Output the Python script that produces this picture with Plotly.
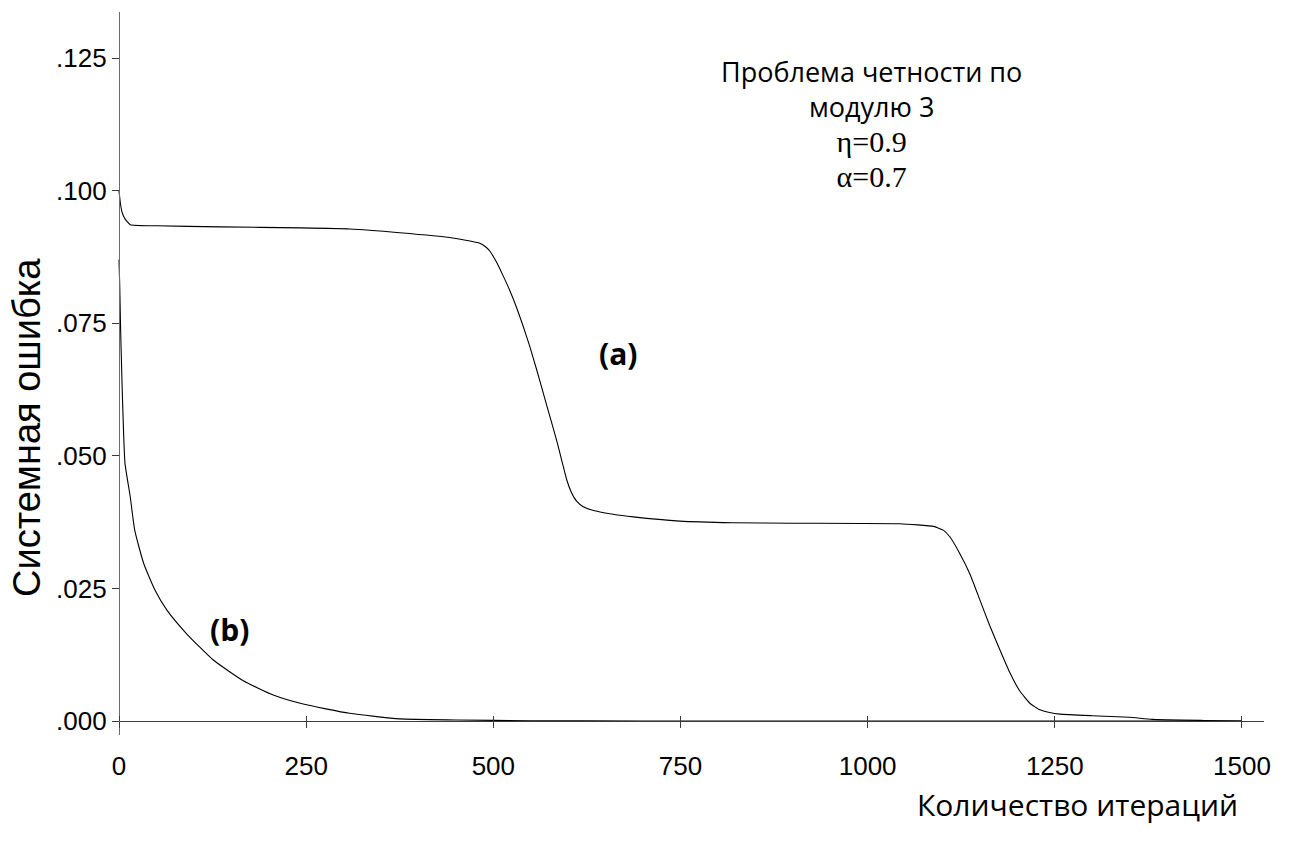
import plotly.graph_objects as go

# ---------------- data ----------------
iter_a = [0, 2, 4, 8, 15, 50, 135, 242, 308, 375, 442, 482, 490, 496, 504, 513,
          522, 531, 540, 549, 558, 567, 576, 585, 592, 598, 604, 611, 620, 634,
          660, 687, 749, 820, 900, 1043, 1088, 1101, 1110, 1123, 1137, 1150, 1163,
          1177, 1190, 1203, 1217, 1230, 1243, 1257, 1300, 1350, 1380, 1450, 1500]
err_a = [0.1000, 0.0975, 0.0960, 0.0947, 0.0936, 0.0934, 0.0932, 0.0930, 0.0928,
         0.0921, 0.0912, 0.0901, 0.0894, 0.0885, 0.0866, 0.0840, 0.0812, 0.0780,
         0.0744, 0.0705, 0.0662, 0.0617, 0.0572, 0.0527, 0.0488, 0.0455, 0.0432,
         0.0415, 0.0404, 0.0397, 0.0390, 0.0385, 0.0377, 0.0374, 0.0373, 0.0372,
         0.0367, 0.0360, 0.0347, 0.0316, 0.0276, 0.0228, 0.0180, 0.0133, 0.0091,
         0.0057, 0.0033, 0.0021, 0.0016, 0.0013, 0.0010, 0.0007, 0.0003, 0.0001,
         0.0000]

iter_b = [0, 1, 2, 4, 6, 8, 15, 21, 33, 48, 64, 90, 126, 166, 206, 246, 308, 375,
          450, 550, 700, 1000, 1500]
err_b = [0.0870, 0.0820, 0.0748, 0.0640, 0.0549, 0.0486, 0.0423, 0.0360, 0.0297,
         0.0247, 0.0209, 0.0165, 0.0115, 0.0076, 0.0049, 0.0032, 0.00145, 0.0004,
         0.0002, 0.00005, 0.0, 0.0, 0.0]

x_tick_vals = [0, 250, 500, 750, 1000, 1250, 1500]
x_tick_text = ["0", "250", "500", "750", "1000", "1250", "1500"]
y_tick_vals = [0.0, 0.025, 0.050, 0.075, 0.100, 0.125]
y_tick_text = [".000", ".025", ".050", ".075", ".100", ".125"]

x_title = "Количество итераций"
y_title = "Системная ошибка"
info_lines = ["Проблема четности по", "модулю 3", "η=0.9", "α=0.7"]
curve_labels = ["(a)", "(b)"]
curve_label_x = [666, 148]
curve_label_y = [0.0693, 0.0172]

# ---------------- layout constants ----------------
W, H = 1291, 841
ML, MR, MT, MB = 112, 27, 12, 106
x_range = [-9.35, 1529.4]
y_range = [-0.00264, 0.13372]
x_axis_pos = (0 - y_range[0]) / (y_range[1] - y_range[0])
y_axis_pos = (0 - x_range[0]) / (x_range[1] - x_range[0])
pw, ph = W - ML - MR, H - MT - MB

def px(xpix):
    return (xpix - ML) / pw

def py(ypix):
    return (H - MB - ypix) / ph

tick_font = dict(family="Liberation Sans Narrow, Arial Narrow, Liberation Sans, Arial",
                 size=26, color="black")
axis_color = "#3a3a3a"

fig = go.Figure()
fig.add_trace(go.Scatter(x=iter_a, y=err_a, mode="lines",
                         line=dict(color="black", width=1.1, shape="spline", smoothing=0.4),
                         showlegend=False, hoverinfo="skip"))
fig.add_trace(go.Scatter(x=iter_b, y=err_b, mode="lines", xaxis="x2",
                         line=dict(color="black", width=1.1, shape="spline", smoothing=0.5),
                         showlegend=False, hoverinfo="skip"))

fig.update_layout(
    width=W, height=H,
    margin=dict(l=ML, r=MR, t=MT, b=MB, autoexpand=False),
    paper_bgcolor="white", plot_bgcolor="white",
    showlegend=False,
    xaxis=dict(domain=[0, 1], range=x_range, anchor="free", position=x_axis_pos,
               showline=True, linecolor=axis_color, linewidth=1.2,
               ticks="outside", ticklen=6, tickwidth=1.2, tickcolor=axis_color,
               tickmode="array", tickvals=x_tick_vals, ticktext=x_tick_text,
               tickfont=tick_font, ticklabelstandoff=16,
               showgrid=False, zeroline=False, fixedrange=True),
    xaxis2=dict(domain=[0, 1], range=x_range, overlaying="x", anchor="free",
                position=x_axis_pos, showline=False,
                ticks="inside", ticklen=5, tickwidth=1.2, tickcolor=axis_color,
                tickmode="array", tickvals=x_tick_vals, showticklabels=False,
                showgrid=False, zeroline=False, fixedrange=True),
    yaxis=dict(domain=[0, 1], range=y_range, anchor="free", position=y_axis_pos,
               showline=True, linecolor="#6a6a6a", linewidth=1.4,
               ticks="outside", ticklen=7, tickwidth=1.2, tickcolor=axis_color,
               tickmode="array", tickvals=y_tick_vals, ticktext=y_tick_text,
               tickfont=tick_font, ticklabelstandoff=0,
               showgrid=False, zeroline=False, fixedrange=True),
)

annotations = []
# axis titles
annotations.append(dict(text=y_title, xref="paper", yref="paper",
                        x=px(27), y=py(428), textangle=-90, showarrow=False,
                        xanchor="center", yanchor="middle",
                        font=dict(family="Liberation Sans, Arial", size=38, color="black")))
annotations.append(dict(text=x_title, xref="paper", yref="paper",
                        x=px(1077), y=py(804), showarrow=False,
                        xanchor="center", yanchor="middle",
                        font=dict(family="Open Sans", size=30, color="black")))
# info text block (one annotation, uniform line spacing)
serif = "font-family:'Liberation Serif','Times New Roman',serif;font-size:30px"
info_text = (info_lines[0] + "<br>" + info_lines[1] + "<br>"
             + "<span style=\"" + serif + "\">" + info_lines[2] + "</span><br>"
             + "<span style=\"" + serif + "\">" + info_lines[3] + "</span>")
annotations.append(dict(text=info_text, xref="paper", yref="paper",
                        x=px(871), y=py(123), showarrow=False, align="center",
                        xanchor="center", yanchor="middle",
                        font=dict(family="Open Sans", size=27, color="black")))
# curve labels
for lab, lx, ly in zip(curve_labels, curve_label_x, curve_label_y):
    annotations.append(dict(text="<b>" + lab + "</b>", xref="x", yref="y",
                            x=lx, y=ly, showarrow=False,
                            xanchor="center", yanchor="middle",
                            font=dict(family="Open Sans", size=30, color="black")))
fig.update_layout(annotations=annotations)

fig.write_html("out.html", config={"displayModeBar": False})
